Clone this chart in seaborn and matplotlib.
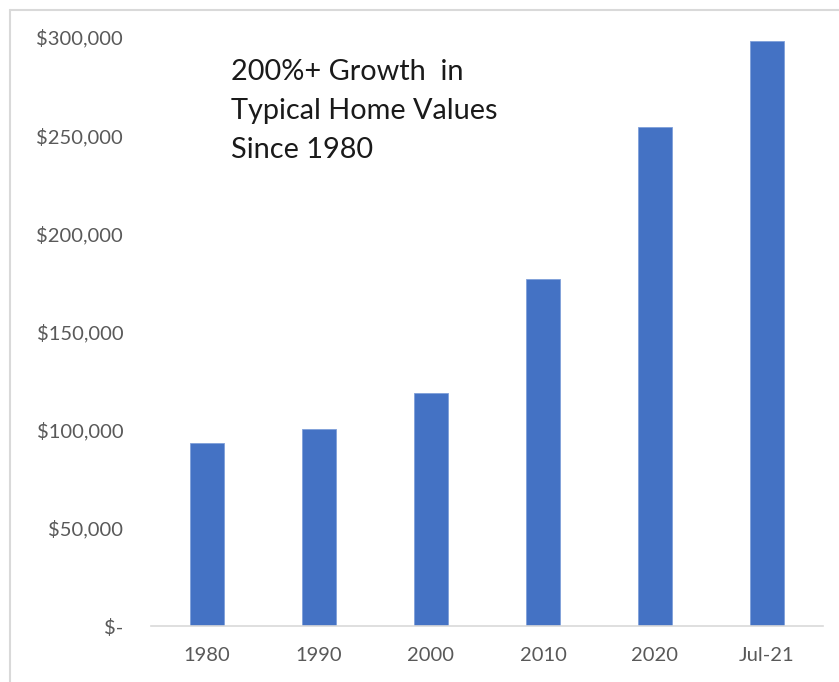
import matplotlib
matplotlib.use("Agg")
import matplotlib.pyplot as plt
import seaborn as sns
import pandas as pd
from matplotlib.ticker import FuncFormatter
from matplotlib.lines import Line2D

categories = ["1980", "1990", "2000", "2010", "2020", "Jul-21"]
home_values = [93400, 100400, 118800, 176900, 254200, 298000]
y_ticks = [0, 50000, 100000, 150000, 200000, 250000, 300000]
annotation_lines = ["200%+ Growth  in", "Typical Home Values", "Since 1980"]

df = pd.DataFrame({"period": categories, "value": home_values})

sns.set_theme(style="white")
plt.rcParams["font.family"] = ["Lato", "DejaVu Sans"]

W, H, DPI = 839, 682, 100
fig = plt.figure(figsize=(W / DPI, H / DPI), dpi=DPI)
ax = fig.add_axes([151 / W, 1 - 626 / H, (823 - 151) / W, (626 - 37) / H])

sns.barplot(data=df, x="period", y="value", color="#4472C4", width=0.31,
            saturation=1, ax=ax, edgecolor="#7f9fd9", linewidth=0.6)

ax.set_ylim(0, 300000)
ax.set_yticks(y_ticks)
ax.yaxis.set_major_formatter(FuncFormatter(lambda v, p: "$-" if v == 0 else f"${v:,.0f}"))
ax.set_xlabel("")
ax.set_ylabel("")
for s in ["top", "right", "left"]:
    ax.spines[s].set_visible(False)
ax.spines["bottom"].set_color("#d9d9d9")
ax.spines["bottom"].set_linewidth(1.2)
ax.tick_params(axis="both", length=0, labelsize=14.5, labelcolor="#595959")
ax.tick_params(axis="y", pad=20)
ax.tick_params(axis="x", pad=15)
ax.grid(False)

for i, line in enumerate(annotation_lines):
    fig.text(231 / W, 1 - (80 + 39 * i) / H, line, fontsize=20.8, color="#1a1a1a",
             va="baseline", ha="left")

# outer chart frame (top and left visible)
fig.add_artist(Line2D([10 / W, 1], [1 - 10 / H, 1 - 10 / H], transform=fig.transFigure,
                      color="#d9d9d9", lw=1.5))
fig.add_artist(Line2D([10 / W, 10 / W], [1 - 10 / H, 0], transform=fig.transFigure,
                      color="#d9d9d9", lw=1.5))

fig.savefig("out.png", dpi=DPI)
